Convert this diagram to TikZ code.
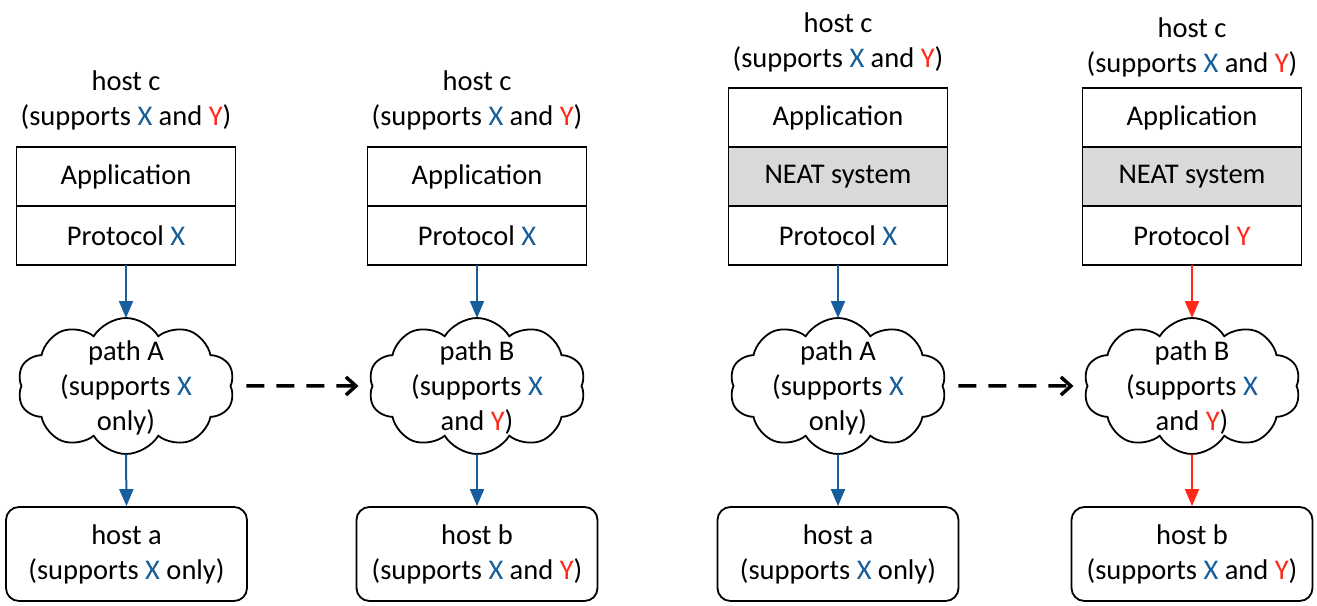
\documentclass[tikz,border=0pt]{standalone}
\usepackage{fontspec}
\setmainfont{Carlito}
\usetikzlibrary{shapes.symbols,arrows.meta,positioning}
\definecolor{xblue}{RGB}{22,93,155}
\definecolor{yred}{RGB}{255,40,25}
\definecolor{neatgray}{RGB}{217,217,217}
\newcommand\bX{\textcolor{xblue}{X}}
\newcommand\rY{\textcolor{yred}{Y}}
\begin{document}
\begin{tikzpicture}[x=1pt,y=-1pt,
  every node/.style={font=\fontsize{28.5}{35}\selectfont},
  hdr/.style={align=center, inner sep=0},
  layer/.style={draw, line width=1.8pt, minimum width=219pt, minimum height=59pt, inner sep=0, outer sep=0},
  neat/.style={layer, fill=neatgray},
  cloudnode/.style={cloud, draw, line width=1.8pt, cloud puffs=10, cloud puff arc=118, minimum width=217pt, minimum height=136pt, inner sep=0, outer sep=0},
  cloudtxt/.style={align=center, yshift=-2pt},
  hostbox/.style={draw, rounded corners=13pt, line width=1.8pt, minimum width=241pt, minimum height=94pt, align=center, inner sep=0},
  barrow/.style={draw=xblue, line width=2pt, -{Triangle[length=17pt,width=14pt]}},
  rarrow/.style={draw=yred, line width=2pt, -{Triangle[length=17pt,width=14pt]}},
  darrow/.style={line width=3.5pt, dash pattern=on 18pt off 12pt, -{Straight Barb[length=10pt,width=18pt,line width=3.5pt]}}
]
\useasboundingbox (0,0) rectangle (1317,605);

% Panel 1
\node[hdr] (h1) at (126,100) {host c\\(supports \bX{} and \rY)};
\node[layer] (a1) at (126,176.5) {Application};
\node[layer, below=0pt of a1] (p1) {Protocol \bX};
\node[cloudnode, label={[cloudtxt]center:path A\\(supports \bX\\only)}] (c1) at (126,386) {};
\node[hostbox] (t1) at (126.5,554) {host a\\(supports \bX{} only)};
\draw[barrow] (p1.south) -- (c1.north);
\draw[barrow] (c1.south) -- (t1.north);

% Panel 2
\node[hdr] (h2) at (477,100) {host c\\(supports \bX{} and \rY)};
\node[layer] (a2) at (477,176.5) {Application};
\node[layer, below=0pt of a2] (p2) {Protocol \bX};
\node[cloudnode, label={[cloudtxt]center:path B\\(supports \bX\\and \rY)}] (c2) at (477,386) {};
\node[hostbox] (t2) at (477,554) {host b\\(supports \bX{} and \rY)};
\draw[barrow] (p2.south) -- (c2.north);
\draw[barrow] (c2.south) -- (t2.north);

% Panel 3
\node[hdr] (h3) at (838,42) {host c\\(supports \bX{} and \rY)};
\node[layer] (a3) at (838,117.5) {Application};
\node[neat, below=0pt of a3] (n3) {NEAT system};
\node[layer, below=0pt of n3] (p3) {Protocol \bX};
\node[cloudnode, label={[cloudtxt]center:path A\\(supports \bX\\only)}] (c3) at (838,386) {};
\node[hostbox] (t3) at (838,554) {host a\\(supports \bX{} only)};
\draw[barrow] (p3.south) -- (c3.north);
\draw[barrow] (c3.south) -- (t3.north);

% Panel 4
\node[hdr] (h4) at (1192,47) {host c\\(supports \bX{} and \rY)};
\node[layer] (a4) at (1192,117.5) {Application};
\node[neat, below=0pt of a4] (n4) {NEAT system};
\node[layer, below=0pt of n4] (p4) {Protocol \rY};
\node[cloudnode, label={[cloudtxt]center:path B\\(supports \bX\\and \rY)}] (c4) at (1192,386) {};
\node[hostbox] (t4) at (1192,554) {host b\\(supports \bX{} and \rY)};
\draw[rarrow] (p4.south) -- (c4.north);
\draw[rarrow] (c4.south) -- (t4.north);

% Dashed transitions
\draw[darrow, shorten <=16pt, shorten >=14pt] (c1) -- (c2);
\draw[darrow, shorten <=16pt, shorten >=14pt] (c3) -- (c4);
\end{tikzpicture}
\end{document}
